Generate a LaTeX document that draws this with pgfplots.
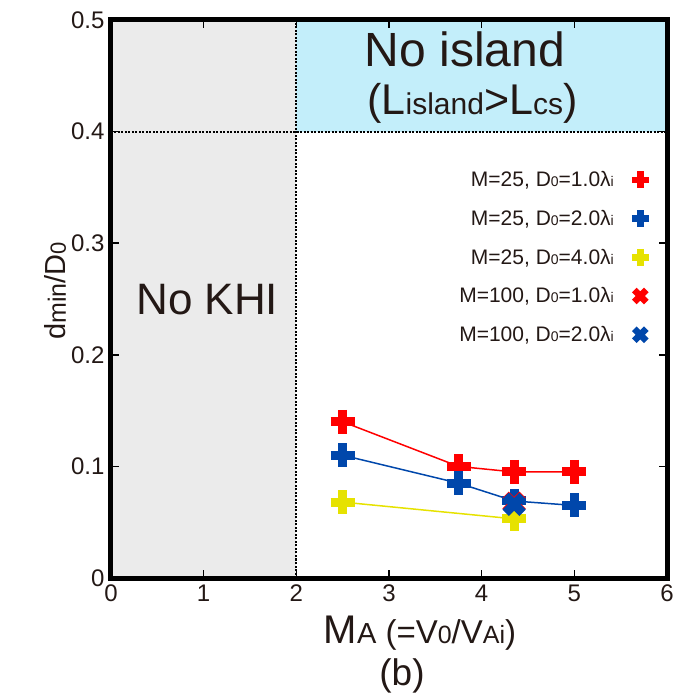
\documentclass[border=0pt]{standalone}
\usepackage{pgfplots}
\pgfplotsset{compat=1.18}
\usepackage{fontspec}
\setmainfont{Liberation Sans}
\usetikzlibrary{calc}

\definecolor{txt}{HTML}{231815}
\definecolor{pred}{HTML}{FF0000}
\definecolor{pblue}{HTML}{0047AB}
\definecolor{pyel}{HTML}{E6E200}
\definecolor{islandbg}{HTML}{C3EEFA}
\definecolor{khibg}{HTML}{EBEBEB}

% text at an explicit size
\newcommand{\fs}[2]{{\fontsize{#1}{#1}\selectfont #2}}

\pgfplotsset{
  bigplus/.style={mark=+, mark size=12pt,
    mark options={solid, line width=9pt, line cap=butt}},
  bigcross/.style={mark=+, mark size=12pt,
    mark options={solid, rotate=45, line width=9pt, line cap=butt}},
  legplus/.style={only marks, mark=+, mark size=8.5pt,
    mark options={solid, line width=6.5pt, line cap=butt}},
  legcross/.style={only marks, mark=+, mark size=8.5pt,
    mark options={solid, rotate=45, line width=6.5pt, line cap=butt}},
}

\begin{document}
\begin{tikzpicture}
\begin{axis}[
  scale only axis,
  width=556pt, height=558pt,
  xmin=0, xmax=6, ymin=0, ymax=0.5,
  xtick={0,1,2,3,4,5,6},
  ytick={0,0.1,0.2,0.3,0.4,0.5},
  yticklabels={0,0.1,0.2,0.3,0.4,0.5},
  tick align=inside,
  major tick length=8pt,
  tick style={line width=1.5pt, black},
  axis line style={line width=5pt, black},
  axis on top,
  /pgf/number format/assume math mode=true,
  tick label style={font=\fontsize{24}{24}\selectfont, text=txt},
  xticklabel style={yshift=-3pt},
  yticklabel style={xshift=-3pt},
  xlabel={\fs{40}{M}\fs{29}{A}\hspace{9pt}\fs{33}{(=V}\fs{25}{0}\fs{33}{/V}\fs{25}{Ai}\fs{33}{)}},
  xlabel style={at={(rel axis cs:0.5,0)}, anchor=base, text=txt,
    xshift=31pt, yshift=-65pt},
  ylabel={\fs{29}{d}\fs{25}{min}\fs{29}{/D}\fs{22}{0}},
  ylabel style={text=txt, yshift=-2pt, xshift=8pt},
  legend plot pos=right,
  legend cell align=right,
  legend style={at={(axis cs:5.838,0.368)}, anchor=north east,
    draw=none, fill=none, text=txt,
    font=\fontsize{21}{21}\selectfont,
    row sep=18pt,
    /tikz/every odd column/.append style={column sep=16pt}},
  legend image code/.code={\draw[#1] plot coordinates {(0.3cm,0cm)};},
]
% shaded regions and boundaries
\fill[khibg] (axis cs:0,0) rectangle (axis cs:2,0.5);
\fill[islandbg] (axis cs:2,0.4) rectangle (axis cs:6,0.5);
\draw[line width=2pt, dash pattern=on 2pt off 1.5pt] (axis cs:2,0) -- (axis cs:2,0.5);
\draw[line width=2pt, dash pattern=on 2pt off 1.5pt] (axis cs:0,0.4) -- (axis cs:6,0.4);

\node[text=txt, anchor=base] at (axis cs:1.04,0.2357) {\fs{44}{No KHI}};
\node[text=txt, anchor=base] at (axis cs:3.82,0.458) {\fs{48}{No island}};
\node[text=txt, anchor=base] at (axis cs:3.9,0.4149)
  {\fs{43}{(L}\fs{30}{island}\fs{43}{>L}\fs{30}{cs}\fs{43}{)}};

% legend entries
\addlegendimage{legplus, pred}
\addlegendimage{legplus, pblue}
\addlegendimage{legplus, pyel}
\addlegendimage{legcross, pred}
\addlegendimage{legcross, pblue}

% M=25 runs
\addplot[forget plot, pred, line width=1.5pt, bigplus]
  coordinates {(2.5,0.140) (3.75,0.100) (4.35,0.095) (5.0,0.095)};
\addplot[forget plot, pblue, line width=1.5pt, bigplus]
  coordinates {(2.5,0.110) (3.75,0.085) (4.35,0.069) (5.0,0.065)};
\addplot[forget plot, pyel, line width=1.5pt, bigplus]
  coordinates {(2.5,0.068) (4.35,0.053)};
% M=100 runs
\addplot[forget plot, pred, only marks, bigcross]
  coordinates {(4.35,0.067)};
\addplot[forget plot, pblue, only marks, bigcross]
  coordinates {(4.35,0.066)};

\legend{{M=25, D\fs{14}{0}=1.0λ\fs{14}{i}},
        {M=25, D\fs{14}{0}=2.0λ\fs{14}{i}},
        {M=25, D\fs{14}{0}=4.0λ\fs{14}{i}},
        {M=100, D\fs{14}{0}=1.0λ\fs{14}{i}},
        {M=100, D\fs{14}{0}=2.0λ\fs{14}{i}}}

\coordinate (lo) at (rel axis cs:0,0);
\coordinate (hi) at (rel axis cs:1,1);
\coordinate (bt) at (rel axis cs:0.5,0);
\end{axis}
% panel tag
\node[text=txt, anchor=base] at ($(bt)+(13pt,-107pt)$) {\fs{37}{(b)}};
\pgfresetboundingbox
\path ($(lo)+(-111pt,-120pt)$) rectangle ($(hi)+(21pt,20pt)$);
\end{tikzpicture}
\end{document}
